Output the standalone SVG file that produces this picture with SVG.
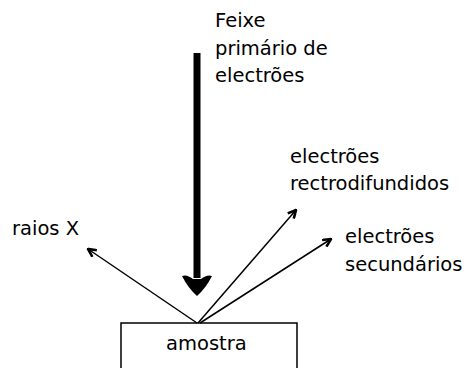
<svg xmlns="http://www.w3.org/2000/svg" width="466" height="368" viewBox="0 0 466 368">
<style>
text{font-family:"DejaVu Sans","Liberation Sans",sans-serif;font-size:19.5px;fill:#000}
.ln{stroke:#000;stroke-width:1.5;fill:none}
</style>
<defs>
<marker id="ah" viewBox="0 0 10 10" refX="9" refY="5" markerWidth="10" markerHeight="10" markerUnits="userSpaceOnUse" orient="auto">
<path d="M1,1 L9,5 L1,9" fill="none" stroke="#000" stroke-width="2.6"/>
</marker>
</defs>
<rect width="466" height="368" fill="#fff"/>
<g id="connectors">
<path class="ln" d="M197,323 L88,249" marker-end="url(#ah)"/>
<path class="ln" d="M198,323 L296,210" marker-end="url(#ah)"/>
<path class="ln" d="M200,323 L331,239" marker-end="url(#ah)"/>
<g id="beam">
<rect x="193.5" y="53" width="7" height="225" fill="#000"/>
<path d="M182,276 Q187,274 193,279 L201,279 Q207,274 212,276 Q206,288 197,296 Q188,288 182,276 Z" fill="#000"/>
</g>
</g>
<g id="amostra">
<path class="ln" d="M121,368 L121,323 L297,323 L297,368"/>
<text x="166" y="350">amostra</text>
</g>
<g id="feixe">
<text x="215" y="27">Feixe</text>
<text x="215" y="55">primário de</text>
<text x="215" y="82">electrões</text>
</g>
<g id="retro">
<text x="290" y="163">electrões</text>
<text x="290" y="190">rectrodifundidos</text>
</g>
<g id="secundarios">
<text x="345" y="243">electrões</text>
<text x="345" y="271">secundários</text>
</g>
<g id="raiosx">
<text x="12" y="235">raios X</text>
</g>
</svg>
